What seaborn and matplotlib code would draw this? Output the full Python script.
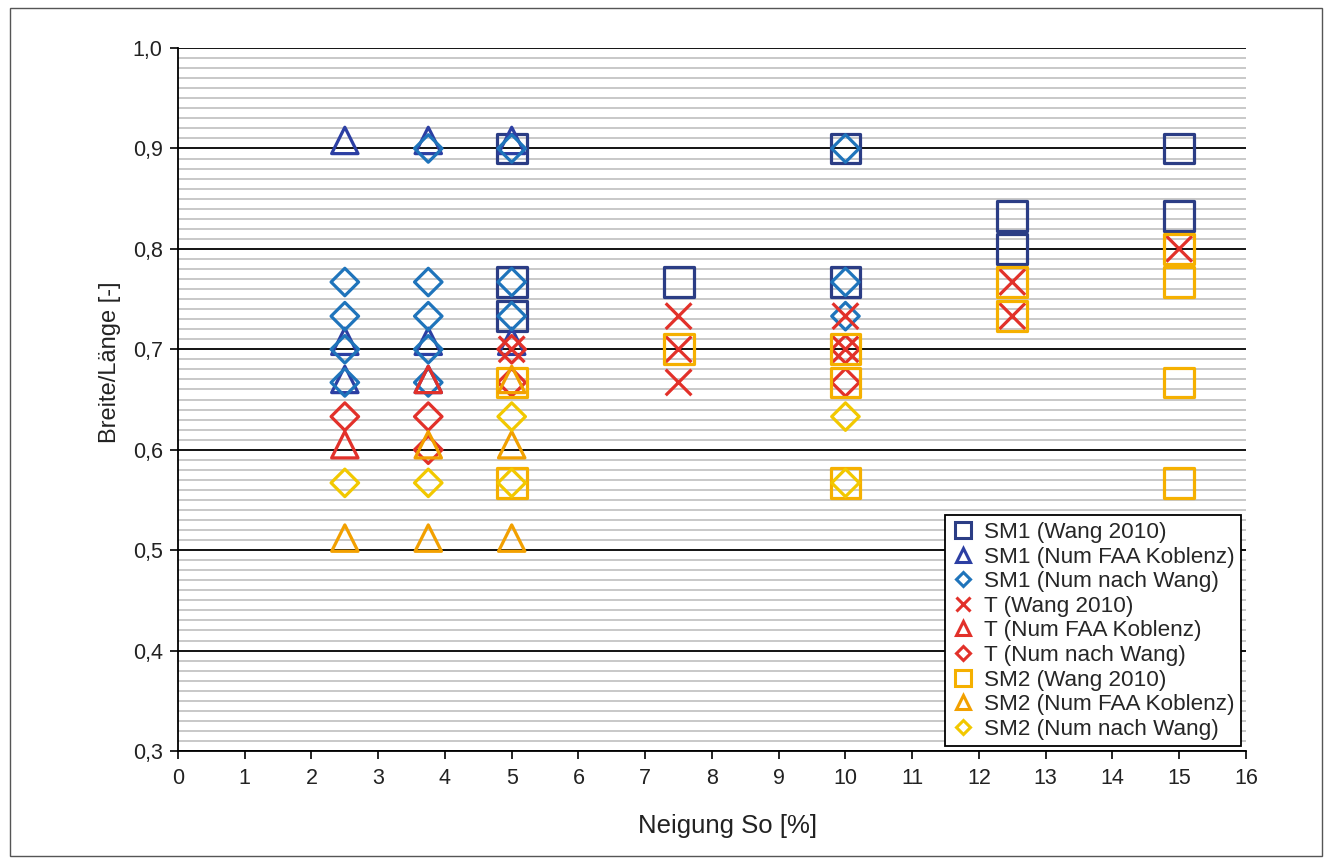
import matplotlib
matplotlib.use("Agg")
import matplotlib.pyplot as plt
import seaborn as sns
import numpy as np
from matplotlib.ticker import MultipleLocator, FixedLocator
from matplotlib.patches import Rectangle
from matplotlib.lines import Line2D

# ---------------- data ----------------
sm1_wang_x = [5, 5, 5, 7.5, 10, 10, 12.5, 12.5, 15, 15]
sm1_wang_y = [0.9, 0.767, 0.733, 0.767, 0.9, 0.767, 0.833, 0.8, 0.9, 0.833]

sm1_faa_x = [2.5, 3.75, 5, 2.5, 3.75, 5, 2.5, 3.75]
sm1_faa_y = [0.908, 0.908, 0.908, 0.708, 0.708, 0.708, 0.670, 0.670]

sm1_num_x = [2.5, 2.5, 2.5, 2.5, 3.75, 3.75, 3.75, 3.75, 3.75, 5, 5, 5, 10, 10, 10]
sm1_num_y = [0.767, 0.733, 0.7, 0.667, 0.9, 0.767, 0.733, 0.7, 0.667, 0.9, 0.767, 0.733, 0.9, 0.767, 0.733]

t_wang_x = [5, 7.5, 7.5, 7.5, 10, 10, 12.5, 12.5, 15]
t_wang_y = [0.7, 0.733, 0.7, 0.667, 0.733, 0.7, 0.767, 0.733, 0.8]

t_faa_x = [2.5, 3.75]
t_faa_y = [0.605, 0.670]

t_num_x = [2.5, 3.75, 3.75, 5, 5, 10, 10]
t_num_y = [0.633, 0.633, 0.6, 0.7, 0.667, 0.7, 0.667]

sm2_wang_x = [5, 5, 7.5, 10, 10, 10, 12.5, 12.5, 15, 15, 15, 15]
sm2_wang_y = [0.667, 0.567, 0.7, 0.7, 0.667, 0.567, 0.767, 0.733, 0.8, 0.767, 0.667, 0.567]

sm2_faa_x = [2.5, 3.75, 5, 3.75, 5, 5]
sm2_faa_y = [0.512, 0.512, 0.512, 0.605, 0.605, 0.670]

sm2_num_x = [2.5, 3.75, 5, 5, 10, 10]
sm2_num_y = [0.567, 0.567, 0.567, 0.633, 0.633, 0.567]

series_labels = ["SM1 (Wang 2010)", "SM1 (Num FAA Koblenz)", "SM1 (Num nach Wang)",
                 "T (Wang 2010)", "T (Num FAA Koblenz)", "T (Num nach Wang)",
                 "SM2 (Wang 2010)", "SM2 (Num FAA Koblenz)", "SM2 (Num nach Wang)"]

y_ticks = [0.3, 0.4, 0.5, 0.6, 0.7, 0.8, 0.9, 1.0]
y_ticklabels = ["0,3", "0,4", "0,5", "0,6", "0,7", "0,8", "0,9", "1,0"]
x_ticks = list(range(0, 17))

# ---------------- styling ----------------
sns.set_style("white")
plt.rcParams['font.family'] = ['Liberation Sans', 'DejaVu Sans']

fig = plt.figure(figsize=(13.32, 8.64), dpi=100)
ax = fig.add_axes([0.1336, 0.1308, 0.8018, 0.8136])

c_navy = "#2b3d85"
c_blue_tri = "#2c3fa3"
c_blue_dia = "#1f74bb"
c_red = "#e2312a"
c_sq2 = "#f5b000"
c_tri2 = "#f2a000"
c_dia2 = "#f2c800"

series = [
    (sm1_wang_x, sm1_wang_y, "s", 21.5, c_navy),
    (sm1_faa_x, sm1_faa_y, "^", 19.0, c_blue_tri),
    (sm1_num_x, sm1_num_y, "D", 14.0, c_blue_dia),
    (t_wang_x, t_wang_y, "x", 18.5, c_red),
    (t_faa_x, t_faa_y, "^", 19.0, c_red),
    (t_num_x, t_num_y, "D", 14.0, c_red),
    (sm2_wang_x, sm2_wang_y, "s", 21.5, c_sq2),
    (sm2_faa_x, sm2_faa_y, "^", 19.0, c_tri2),
    (sm2_num_x, sm2_num_y, "D", 14.0, c_dia2),
]

for i, ((xs, ys, m, ms, c), lab) in enumerate(zip(series, series_labels)):
    sns.scatterplot(x=xs, y=ys, marker=m, s=ms ** 2, color=c, ax=ax,
                    label=lab, zorder=3 + i, legend=False)
    coll = ax.collections[-1]
    coll.set_facecolor("none")
    coll.set_edgecolor(c)
    coll.set_linewidth(2.3)

ax.set_xlim(0, 16)
ax.set_ylim(0.3, 1.0)
ax.xaxis.set_major_locator(FixedLocator(x_ticks))
ax.set_xticklabels([str(v) for v in x_ticks])
ax.yaxis.set_major_locator(FixedLocator(y_ticks))
ax.set_yticklabels(y_ticklabels)
ax.yaxis.set_minor_locator(MultipleLocator(0.01))

ax.grid(False)
ax.grid(True, which="major", axis="y", color="black", linewidth=1.3, zorder=1)
ax.grid(True, which="minor", axis="y", color="#c4c4c4", linewidth=1.3, zorder=0)
ax.set_axisbelow(True)

for s in ["top", "right"]:
    ax.spines[s].set_visible(False)
for s in ["left", "bottom"]:
    ax.spines[s].set_color("black")
    ax.spines[s].set_linewidth(1.3)

ax.tick_params(axis="both", which="major", direction="out", length=6, width=1.2,
               color="black", labelsize=15.5, labelcolor="#222222", left=True, bottom=True)
ax.tick_params(axis="x", which="major", pad=6)
ax.tick_params(axis="y", which="major", pad=5)
ax.tick_params(axis="y", which="minor", length=0)

ax.set_xlabel("Neigung So [%]", fontsize=18.5, color="#222222")
ax.set_ylabel("Breite/Länge [-]", fontsize=17, color="#222222")
ax.xaxis.set_label_coords(0.515, -0.09)
ax.yaxis.set_label_coords(-0.053, 0.553)

# legend
handles = []
for (xs, ys, m, ms, c), lab in zip(series, series_labels):
    handles.append(Line2D([], [], linestyle="none", marker=m, markersize=ms * 0.52,
                          markerfacecolor="none", markeredgecolor=c,
                          markeredgewidth=2.2, label=lab))
leg = ax.legend(handles=handles, loc="lower right", fontsize=16.2, frameon=True,
                fancybox=False, borderaxespad=0.2, labelspacing=0.16,
                handletextpad=0.45, handlelength=1.0, borderpad=0.3)
leg.get_frame().set_edgecolor("black")
leg.get_frame().set_linewidth(1.3)
leg.get_frame().set_alpha(1)
leg.set_zorder(20)

# figure border
fig.patches.append(Rectangle((0.0075, 0.009), 0.985, 0.982, transform=fig.transFigure,
                             fill=False, edgecolor="#555555", linewidth=1.0))

fig.savefig("out.png", dpi=100)
